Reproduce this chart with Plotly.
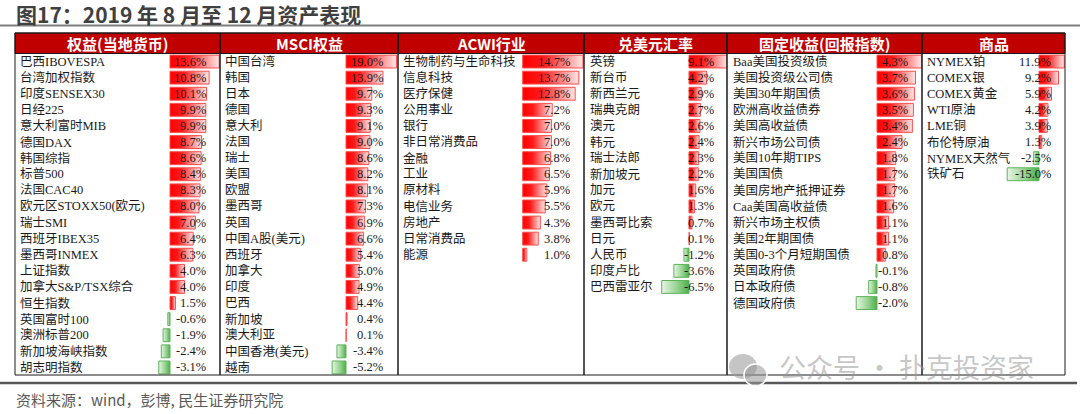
import plotly.graph_objects as go

# ---------------- data ----------------
headers = ["权益(当地货币)", "MSCI权益", "ACWI行业", "兑美元汇率", "固定收益(回报指数)", "商品"]

eq_names = ["巴西IBOVESPA", "台湾加权指数", "印度SENSEX30", "日经225", "意大利富时MIB", "德国DAX",
            "韩国综指", "标普500", "法国CAC40", "欧元区STOXX50(欧元)", "瑞士SMI", "西班牙IBEX35",
            "墨西哥INMEX", "上证指数", "加拿大S&P/TSX综合", "恒生指数", "英国富时100", "澳洲标普200",
            "新加坡海峡指数", "胡志明指数"]
eq_vals = [13.6, 10.8, 10.1, 9.9, 9.9, 8.7, 8.6, 8.4, 8.3, 8.0, 7.0, 6.4, 6.3, 4.0, 4.0, 1.5,
           -0.6, -1.9, -2.4, -3.1]

msci_names = ["中国台湾", "韩国", "日本", "德国", "意大利", "法国", "瑞士", "美国", "欧盟", "墨西哥",
              "英国", "中国A股(美元)", "西班牙", "加拿大", "印度", "巴西", "新加坡", "澳大利亚",
              "中国香港(美元)", "越南"]
msci_vals = [19.0, 13.9, 9.7, 9.3, 9.1, 9.0, 8.6, 8.2, 8.1, 7.3, 6.9, 6.6, 5.4, 5.0, 4.9, 4.4,
             0.4, 0.1, -3.4, -5.2]

acwi_names = ["生物制药与生命科技", "信息科技", "医疗保健", "公用事业", "银行", "非日常消费品", "金融",
              "工业", "原材料", "电信业务", "房地产", "日常消费品", "能源"]
acwi_vals = [14.7, 13.7, 12.8, 7.2, 7.0, 7.0, 6.8, 6.5, 5.9, 5.5, 4.3, 3.8, 1.0]

fx_names = ["英镑", "新台币", "新西兰元", "瑞典克朗", "澳元", "韩元", "瑞士法郎", "新加坡元", "加元",
            "欧元", "墨西哥比索", "日元", "人民币", "印度卢比", "巴西雷亚尔"]
fx_vals = [9.1, 4.2, 2.9, 2.7, 2.6, 2.4, 2.3, 2.2, 1.6, 1.3, 0.7, 0.1, -1.2, -3.6, -6.5]

fi_names = ["Baa美国投资级债", "美国投资级公司债", "美国30年期国债", "欧洲高收益债券", "美国高收益债",
            "新兴市场公司债", "美国10年期TIPS", "美国国债", "美国房地产抵押证券", "Caa美国高收益债",
            "新兴市场主权债", "美国2年期国债", "美国0-3个月短期国债", "英国政府债", "日本政府债", "德国政府债"]
fi_vals = [4.3, 3.7, 3.6, 3.5, 3.4, 2.4, 1.8, 1.7, 1.7, 1.6, 1.1, 1.1, 0.8, -0.1, -0.8, -2.0]

cmd_names = ["NYMEX铂", "COMEX银", "COMEX黄金", "WTI原油", "LME铜", "布伦特原油", "NYMEX天然气", "铁矿石"]
cmd_vals = [11.9, 9.2, 5.9, 4.2, 3.9, 1.3, -2.5, -15.0]

panel_names = [eq_names, msci_names, acwi_names, fx_names, fi_names, cmd_names]
panel_vals = [eq_vals, msci_vals, acwi_vals, fx_vals, fi_vals, cmd_vals]

# ---------------- layout geometry (pixels) ----------------
W, H = 1080, 414
def px(x): return x / W
def py(y): return 1 - y / H

geo = [
    dict(x0=15, x1=220, zero=170, scale=3.62, lx=18, vr=208),
    dict(x0=220, x1=398, zero=346, scale=2.66, lx=223, vr=385),
    dict(x0=398, x1=584, zero=522.7, scale=4.1, lx=401, vr=572),
    dict(x0=584, x1=727, zero=689, scale=4.2, lx=588, vr=716),
    dict(x0=727, x1=922, zero=877, scale=10.4, lx=731, vr=910),
    dict(x0=922, x1=1065, zero=1039, scale=2.12, lx=925, vr=1053),
]
TOP, HEAD_B, BOT = 33, 53.5, 375
ROW = 16.1

RED_CS = [[0, "#FF0000"], [0.35, "#FF1A1A"], [1, "#FFE8E8"]]
GREEN_CS = [[0, "#E8F5E5"], [0.6, "#8FD08A"], [1, "#4EAE4A"]]
TXT_FONT = dict(family="Liberation Serif, Noto Sans CJK SC, serif", size=12.5, color="#1a1a1a")

fig = go.Figure()
annotations = []
shapes = []
layout_axes = {}

for p, (names, vals, g) in enumerate(zip(panel_names, panel_vals, geo)):
    xa = "x" if p == 0 else f"x{p+1}"
    key = "xaxis" if p == 0 else f"xaxis{p+1}"
    layout_axes[key] = dict(
        domain=[px(g["x0"]), px(g["x1"])],
        range=[(g["x0"] - g["zero"]) / g["scale"], (g["x1"] - g["zero"]) / g["scale"]],
        visible=False, anchor="y", fixedrange=True,
    )
    for i, v in enumerate(vals):
        pos = v >= 0
        fig.add_trace(go.Scatter(
            x=[0, v, v, 0, 0], y=[i - 0.4, i - 0.4, i + 0.4, i + 0.4, i - 0.4],
            fill="toself", mode="lines",
            line=dict(color="#FF4D4D" if pos else "#5DB35A", width=1),
            fillgradient=dict(type="horizontal", colorscale=RED_CS if pos else GREEN_CS),
            hoverinfo="skip", showlegend=False, xaxis=xa, yaxis="y",
        ))
        annotations.append(dict(x=px(g["lx"]), xref="paper", y=i, yref="y", text=names[i],
                                xanchor="left", yanchor="middle", showarrow=False, font=TXT_FONT))
        annotations.append(dict(x=px(g["vr"]), xref="paper", y=i, yref="y", text=f"{v:.1f}%",
                                xanchor="right", yanchor="middle", showarrow=False, font=TXT_FONT))
    # header cell
    shapes.append(dict(type="rect", xref="paper", yref="paper", x0=px(g["x0"]), x1=px(g["x1"]),
                       y0=py(HEAD_B), y1=py(TOP), fillcolor="#C00000",
                       line=dict(color="#1a1a1a", width=1), layer="below"))
    # panel outline
    shapes.append(dict(type="rect", xref="paper", yref="paper", x0=px(g["x0"]), x1=px(g["x1"]),
                       y0=py(BOT), y1=py(TOP), fillcolor="rgba(0,0,0,0)",
                       line=dict(color="#1a1a1a", width=1), layer="above"))
    annotations.append(dict(x=px((g["x0"] + g["x1"]) / 2), xref="paper", y=py((TOP + HEAD_B) / 2),
                            yref="paper", text=f"<b>{headers[p]}</b>", showarrow=False,
                            xanchor="center", yanchor="middle",
                            font=dict(family="Noto Sans CJK SC", size=15, color="white")))

# title, rules, source
annotations.append(dict(x=px(14), xref="paper", y=py(14), yref="paper",
                        text="<b>图17：2019 年 8 月至 12 月资产表现</b>", showarrow=False,
                        xanchor="left", yanchor="middle",
                        font=dict(family="Noto Sans CJK SC", size=21, color="#404040")))
shapes.append(dict(type="line", xref="paper", yref="paper", x0=0, x1=1, y0=py(25.5), y1=py(25.5),
                   line=dict(color="#7f7f7f", width=2)))
shapes.append(dict(type="line", xref="paper", yref="paper", x0=0, x1=px(1077), y0=py(383), y1=py(383),
                   line=dict(color="#595959", width=2.5)))
annotations.append(dict(x=px(14), xref="paper", y=py(399), yref="paper",
                        text="资料来源：wind，彭博, 民生证券研究院", showarrow=False,
                        xanchor="left", yanchor="middle",
                        font=dict(family="Noto Sans CJK SC", size=15, color="#595959")))

# watermark
annotations.append(dict(x=px(777), xref="paper", y=py(366), yref="paper",
                        text="公众号 · 扑克投资家", showarrow=False, xanchor="left", yanchor="middle",
                        font=dict(family="Noto Sans CJK SC", size=27, color="rgba(150,150,150,0.55)")))
shapes.append(dict(type="circle", xref="paper", yref="paper", x0=px(729), x1=px(757), y0=py(379), y1=py(354),
                   fillcolor="rgba(150,150,150,0.55)", line=dict(width=0)))
shapes.append(dict(type="circle", xref="paper", yref="paper", x0=px(744), x1=px(767), y0=py(386), y1=py(364),
                   fillcolor="rgba(150,150,150,0.55)", line=dict(color="white", width=1.5)))

fig.update_layout(
    width=W, height=H,
    margin=dict(l=0, r=0, t=0, b=0),
    paper_bgcolor="white", plot_bgcolor="rgba(0,0,0,0)",
    yaxis=dict(domain=[py(BOT), py(HEAD_B)], range=[(BOT - HEAD_B) / ROW - 0.5, -0.5],
               visible=False, fixedrange=True),
    annotations=annotations, shapes=shapes, showlegend=False,
    **layout_axes,
)

fig.write_html("out.html", config={"displayModeBar": False},
               post_script="document.body.style.margin='0px';document.body.style.overflow='hidden';")
